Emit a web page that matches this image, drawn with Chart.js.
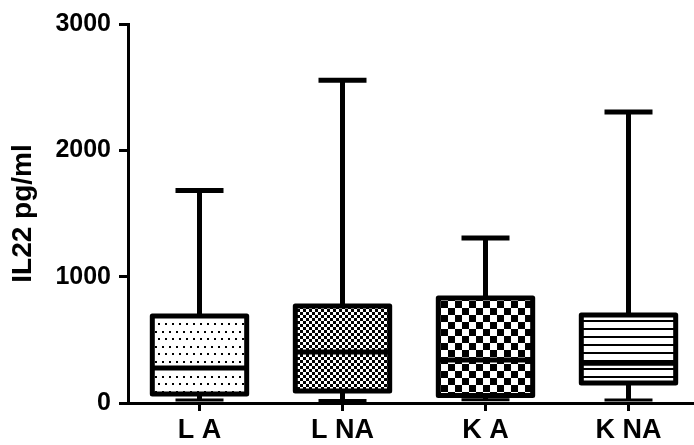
<!DOCTYPE html>
<html>
<head>
<meta charset="utf-8">
<script src="https://cdn.jsdelivr.net/npm/chart.js@4.4.0/dist/chart.umd.min.js"></script>
<style>
  html, body { margin: 0; padding: 0; background: #fff; overflow: hidden; }
</style>
</head>
<body>
<canvas id="chart" width="700" height="445"></canvas>
<script>
// box plot values (pg/ml)
const groups = ['L A', 'L NA', 'K A', 'K NA'];
const minVals = [24, 20, 25, 24];
const q1Vals = [71, 95, 60, 158];
const medianVals = [277, 404, 340, 314];
const q3Vals = [689, 768, 831, 697];
const maxVals = [1682, 2554, 1306, 2303];
const yTicks = [0, 1000, 2000, 3000];

const canvas = document.getElementById('chart');
const ctx = canvas.getContext('2d');

// small tiles used as box fills
const makePattern = (w, h, draw) => {
    const c = document.createElement('canvas');
    c.width = w;
    c.height = h;
    const g = c.getContext('2d');
    g.fillStyle = '#fff';
    g.fillRect(0, 0, w, h);
    g.fillStyle = '#000';
    draw(g);
    return ctx.createPattern(c, 'repeat');
};

const patterns = [
    makePattern(7, 15, g => { g.fillRect(1, 1, 2, 2); g.fillRect(4, 8, 2, 2); }),
    makePattern(6, 6, g => { g.fillRect(0, 0, 3, 3); g.fillRect(3, 3, 3, 3); }),
    makePattern(14, 14, g => { g.fillRect(0, 0, 7, 7); g.fillRect(7, 7, 7, 7); }),
    makePattern(1, 8, g => { g.fillRect(0, 0, 1, 2); })
];

const boldFont = size => ({ family: "'Liberation Sans', Arial, sans-serif", size: size, weight: 'bold' });

// outlines, medians and whiskers on top of the patterned bars
const boxPlot = {
    id: 'boxPlot',
    afterDatasetsDraw(chart) {
        const { ctx, scales: { x, y } } = chart;
        const bars = chart.getDatasetMeta(0).data;
        ctx.save();
        ctx.strokeStyle = '#000';
        bars.forEach((bar, i) => {
            const cx = x.getPixelForValue(i);
            const half = bar.width / 2;
            const capHalf = 24;
            const top = y.getPixelForValue(q3Vals[i]);
            const bottom = y.getPixelForValue(q1Vals[i]);
            const med = y.getPixelForValue(medianVals[i]);
            const hi = y.getPixelForValue(maxVals[i]);
            const lo = y.getPixelForValue(minVals[i]);

            ctx.lineWidth = 5;
            ctx.lineCap = 'butt';
            ctx.beginPath();
            ctx.moveTo(cx, top);
            ctx.lineTo(cx, hi);
            ctx.moveTo(cx - capHalf, hi);
            ctx.lineTo(cx + capHalf, hi);
            ctx.moveTo(cx, bottom);
            ctx.lineTo(cx, lo);
            ctx.stroke();

            ctx.lineWidth = 3;
            ctx.beginPath();
            ctx.moveTo(cx - capHalf, lo);
            ctx.lineTo(cx + capHalf, lo);
            ctx.stroke();

            ctx.lineWidth = 5;
            ctx.lineJoin = 'round';
            ctx.strokeRect(cx - half, top, half * 2, bottom - top);
            ctx.beginPath();
            ctx.moveTo(cx - half, med);
            ctx.lineTo(cx + half, med);
            ctx.stroke();
        });
        ctx.restore();
    }
};

new Chart(ctx, {
    type: 'bar',
    data: {
        labels: groups,
        datasets: [{
            data: groups.map((_, i) => [q1Vals[i], q3Vals[i]]),
            backgroundColor: patterns,
            borderWidth: 0,
            barPercentage: 0.66,
            categoryPercentage: 1
        }]
    },
    options: {
        responsive: false,
        animation: false,
        layout: { padding: { top: 24, right: 0, bottom: 0, left: 0 } },
        plugins: {
            legend: { display: false },
            tooltip: { enabled: false }
        },
        scales: {
            x: {
                offset: true,
                grid: {
                    offset: false,
                    drawOnChartArea: false,
                    drawTicks: true,
                    tickLength: 8,
                    color: '#000',
                    lineWidth: 3
                },
                border: { display: true, color: '#000', width: 3 },
                ticks: {
                    color: '#000',
                    font: boldFont(27),
                    padding: 3,
                    maxRotation: 0,
                    autoSkip: false
                },
                afterFit(scale) { scale.height = 42; }
            },
            y: {
                min: 0,
                max: 3000,
                afterBuildTicks(scale) { scale.ticks = yTicks.map(v => ({ value: v })); },
                grid: {
                    drawOnChartArea: false,
                    drawTicks: true,
                    tickLength: 9,
                    color: '#000',
                    lineWidth: 3
                },
                border: { display: true, color: '#000', width: 3 },
                ticks: {
                    color: '#000',
                    font: boldFont(25),
                    padding: 8,
                    callback: v => String(v)
                },
                title: {
                    display: true,
                    text: 'IL22 pg/ml',
                    color: '#000',
                    font: boldFont(28),
                    padding: { top: 6, bottom: 0 }
                },
                afterFit(scale) { scale.width = 128; }
            }
        }
    },
    plugins: [boxPlot]
});
</script>
</body>
</html>
